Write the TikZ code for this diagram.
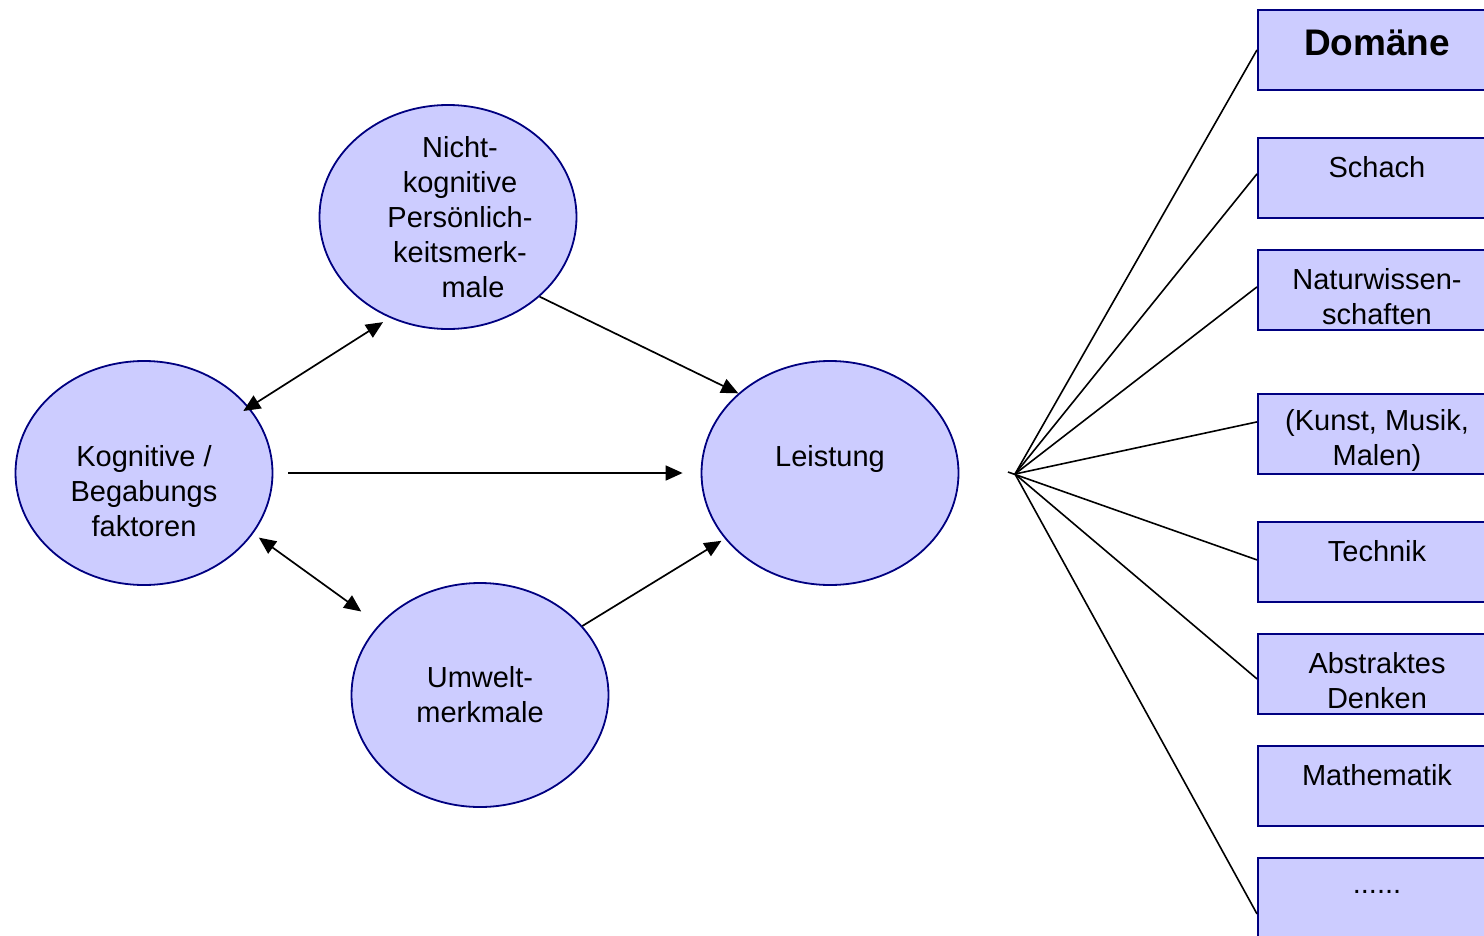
\documentclass[tikz,border=0pt]{standalone}
\usepackage{fontspec}
\setmainfont{Liberation Sans}
\usetikzlibrary{shapes.geometric,arrows.meta}
\definecolor{boxfill}{HTML}{CCCCFF}
\definecolor{boxdraw}{HTML}{000080}
\begin{document}
\begin{tikzpicture}[x=1pt,y=-1pt,
  ell/.style={ellipse,draw=boxdraw,fill=boxfill,line width=1.8pt,minimum width=257pt,minimum height=224pt,inner sep=0pt},
  dbox/.style={rectangle,draw=boxdraw,fill=boxfill,line width=1.8pt,minimum width=240pt,minimum height=80pt,inner sep=0pt,anchor=north west},
  txt/.style={font=\fontsize{29}{35}\selectfont,align=center,inner sep=0pt},
  arr/.style={line width=1.7pt,-{Triangle[length=17pt,width=15pt]}},
  darr/.style={line width=1.7pt,{Triangle[length=17pt,width=15pt]}-{Triangle[length=17pt,width=15pt]}},
  fan/.style={line width=1.6pt}]
\useasboundingbox (0,0) rectangle (1484,935);
% ellipses
\node[ell] (kog) at (144,473) {};
\node[ell] (nicht) at (448,217) {};
\node[ell] (leist) at (830,473) {};
\node[ell] (umw) at (480,695) {};
\node[txt] (tkog) at (144,491) {Kognitive /\\Begabungs\\faktoren};
\node[txt] (tnicht) at (460,217) {Nicht-\\kognitive\\Persönlich-\\keitsmerk-\\\hspace*{26pt}male};
\node[txt] (tleist) at (830,459) {Leistung};
\node[txt] (tumw) at (480,695) {Umwelt-\\merkmale};
% arrows
\draw[arr] (nicht.-41) -- (leist.139);
\draw[arr,shorten <=15pt,shorten >=18pt] (kog.east) -- (leist.west);
\draw[arr,shorten >=4pt] (umw.34.5) -- (leist.212.6);
\draw[darr,shorten <=-7pt,shorten >=8pt] (kog.32.3) -- (nicht.240);
\draw[darr,shorten <=7pt,shorten >=22pt] (kog.-29.7) -- (umw.145.1);
% domain boxes
\node[dbox] (bdom) at (1257,9) {};
\node[dbox] (bsch) at (1257,137) {};
\node[dbox] (bnat) at (1257,249) {};
\node[dbox] (bkun) at (1257,393) {};
\node[dbox] (btec) at (1257,521) {};
\node[dbox] (babs) at (1257,633) {};
\node[dbox] (bmat) at (1257,745) {};
\node[dbox] (bdot) at (1257,857) {};
\node[txt,font=\fontsize{37}{42}\selectfont\bfseries] (tdom) at (1377,43) {Domäne};
\node[txt] (tsch) at (1377,167) {Schach};
\node[txt] (tnat) at (1377,296.5) {Naturwissen-\\schaften};
\node[txt] (tkun) at (1377,440.5) {(Kunst, Musik,\\Malen)};
\node[txt] (ttec) at (1377,551) {Technik};
\node[txt] (tabs) at (1377,680.5) {Abstraktes\\Denken};
\node[txt] (tmat) at (1377,775) {Mathematik};
\node[txt] (tdot) at (1377,892) {......};
% fan
\coordinate (fanpt) at (1015,474);
\coordinate (fanstub) at (1008,472);
\draw[fan] (fanpt) -- (bdom.west);
\draw[fan] (fanpt) -- ([yshift=4pt]bsch.west);
\draw[fan] (fanpt) -- ([yshift=3pt]bnat.west);
\draw[fan] (fanpt) -- ([yshift=12pt]bkun.west);
\draw[fan] (fanstub) -- ([yshift=2pt]btec.west);
\draw[fan] (fanpt) -- ([yshift=-5pt]babs.west);
\draw[fan] (fanpt) -- ([yshift=-16pt]bdot.west);
\end{tikzpicture}
\end{document}
